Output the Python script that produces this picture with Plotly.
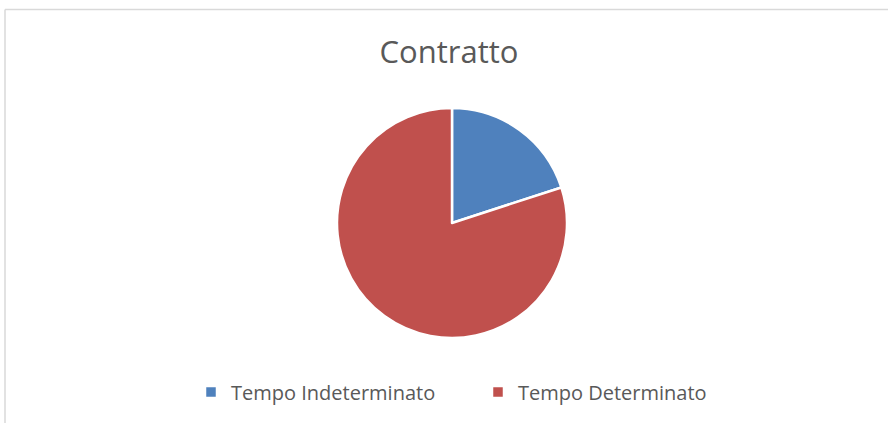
import plotly.graph_objects as go

labels = ["Tempo Indeterminato", "Tempo Determinato"]
values = [20, 80]
colors = ["#4F81BD", "#C0504D"]

W, H = 888, 423

fig = go.Figure()

fig.add_trace(go.Pie(
    labels=labels,
    values=values,
    sort=False,
    direction="clockwise",
    rotation=0,
    textinfo="none",
    hoverinfo="label+value+percent",
    marker=dict(colors=colors, line=dict(color="white", width=2.5)),
    domain=dict(x=[337 / W, 567 / W], y=[(H - 338) / H, (H - 108) / H]),
))

fig.update_layout(
    width=W,
    height=H,
    margin=dict(l=0, r=0, t=0, b=0),
    paper_bgcolor="white",
    font=dict(family="Open Sans", color="#595959"),
    title=dict(
        text="Contratto",
        x=449 / W,
        xanchor="center",
        y=1 - 52 / H,
        yanchor="middle",
        font=dict(size=31, color="#595959"),
    ),
    showlegend=True,
    legend=dict(
        orientation="h",
        x=191 / W,
        xanchor="left",
        y=1 - 392 / H,
        yanchor="middle",
        font=dict(size=20, color="#595959"),
        itemwidth=30,
        entrywidth=242,
        entrywidthmode="pixels",
        tracegroupgap=0,
    ),
    shapes=[
        # chart area border (top and left edges visible)
        dict(type="line", xref="paper", yref="paper",
             x0=5 / W, x1=1.01, y0=1 - 9.5 / H, y1=1 - 9.5 / H,
             line=dict(color="#D9D9D9", width=1.5)),
        dict(type="line", xref="paper", yref="paper",
             x0=5 / W, x1=5 / W, y0=-0.01, y1=1 - 9.5 / H,
             line=dict(color="#D9D9D9", width=1.5)),
    ],
)

fig.write_html("out.html", config={"displayModeBar": False},
               post_script="document.body.style.margin='0';")
